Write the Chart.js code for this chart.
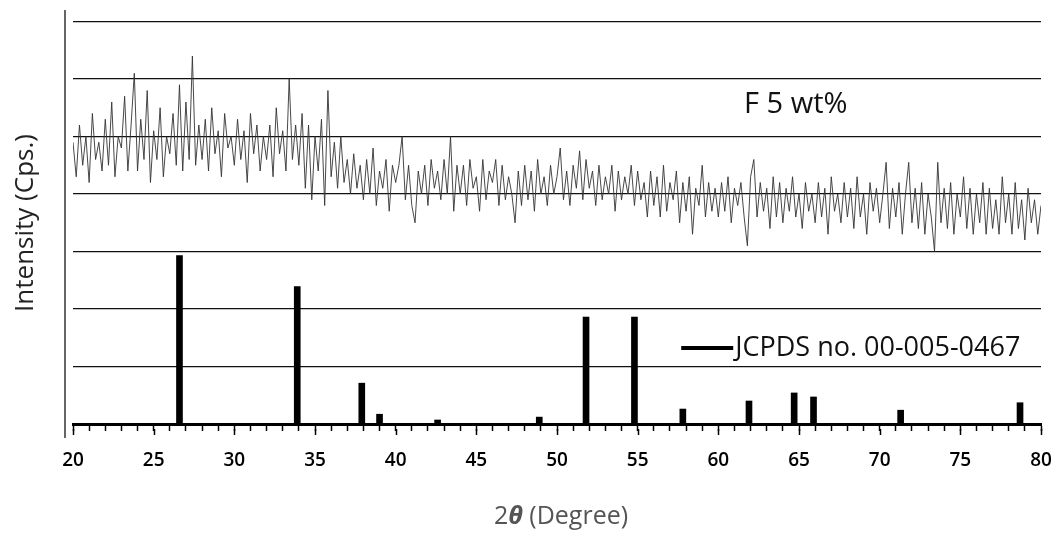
<!DOCTYPE html>
<html>
<head>
<meta charset="utf-8">
<script src="https://cdn.jsdelivr.net/npm/chart.js@4.4.1/dist/chart.umd.min.js"></script>
<style>
  html, body { margin: 0; padding: 0; background: #fff; }
  #wrap { width: 1062px; height: 536px; }
</style>
</head>
<body>
<div id="wrap"><canvas id="xrd"></canvas></div>
<script>
// measured pattern, F 5 wt% sample, 20-80 deg every 0.2 deg (offset so it sits above the reference sticks)
const scanStart = 20;
const scanStep = 0.2;
const sampleIntensity = [
    4.9,4.3,5.2,4.5,5.0,4.2,5.4,4.6,4.9,4.4,
    5.3,4.5,5.6,4.3,5.0,4.8,5.7,4.4,5.2,6.1,
    4.4,5.3,4.6,5.8,4.2,5.1,4.6,5.5,4.3,5.0,
    4.7,5.4,4.5,5.9,4.4,5.6,4.6,6.4,4.5,5.2,
    4.6,5.3,4.4,5.5,4.7,5.1,4.3,5.4,4.8,5.0,
    4.5,5.3,4.6,5.1,4.2,5.4,4.7,5.2,4.4,5.0,
    4.6,5.2,4.3,5.5,4.7,5.1,4.4,6.0,4.6,5.2,
    4.5,5.4,4.1,5.2,3.9,5.0,4.4,5.3,3.8,5.8,
    4.3,4.9,4.1,5.0,4.2,4.6,4.0,4.7,4.1,4.5,
    3.9,4.6,4.0,4.8,3.8,4.4,4.1,4.6,3.7,4.5,
    4.2,4.5,5.0,3.9,4.5,3.8,3.5,4.4,4.0,4.5,
    3.8,4.6,4.1,4.4,3.9,4.6,4.0,5.0,3.7,4.5,
    4.0,4.5,3.8,4.6,4.1,4.3,3.7,4.6,3.9,4.4,
    4.2,4.6,3.8,4.5,3.9,4.3,4.0,3.5,4.4,3.8,
    4.5,3.9,4.4,3.7,4.6,4.0,4.3,3.8,4.5,4.0,
    4.3,4.8,3.9,4.4,3.8,4.5,4.1,4.75,3.9,4.6,
    4.1,4.4,3.8,4.5,3.9,4.3,4.0,4.5,3.7,4.4,
    3.9,4.3,4.0,4.5,3.8,4.4,3.9,4.2,3.6,4.4,
    3.8,4.3,3.6,4.5,3.7,4.2,3.9,4.4,3.5,4.2,
    3.7,4.3,3.3,4.1,3.8,4.5,3.6,4.2,3.7,4.1,
    3.6,4.2,3.7,4.3,3.5,4.1,3.8,4.2,3.6,3.1,
    4.3,4.6,3.6,4.2,3.7,4.1,3.4,4.3,3.6,4.2,
    3.5,4.1,3.7,4.3,3.6,4.0,3.4,4.2,3.7,4.0,
    3.5,4.2,3.6,4.1,3.3,4.3,3.7,4.0,3.5,4.2,
    3.6,4.1,3.4,4.3,3.6,4.0,3.3,4.2,3.7,4.1,
    3.5,4.0,4.55,3.4,4.1,3.6,4.2,3.3,4.0,4.55,
    3.5,4.1,3.4,4.2,3.3,4.0,3.6,3.0,4.55,3.5,
    4.1,3.4,4.2,3.3,4.0,3.6,4.3,3.4,4.1,3.3,
    4.0,3.5,4.2,3.3,4.1,3.4,3.9,3.3,4.3,3.5,
    4.0,3.3,4.2,3.4,3.9,3.2,4.1,3.5,3.9,3.3,
    3.8
];

// JCPDS no. 00-005-0467 reference lines
const refPositions = [26.6, 33.9, 37.9, 39.0, 42.6, 48.9, 51.8, 54.8, 57.8, 61.9, 64.7, 65.9, 71.3, 78.7];
const refHeights   = [2.93, 2.39, 0.71, 0.17, 0.07, 0.12, 1.86, 1.86, 0.26, 0.40, 0.54, 0.47, 0.24, 0.37];

const xMin = 20;
const xMax = 80;
const xLabelEvery = 5;
const yGridLines = [0, 1, 2, 3, 4, 5, 6, 7];

const sampleLabel = 'F 5 wt%';
const refLabel = 'JCPDS no. 00-005-0467';

const FONT = "'Open Sans', 'DejaVu Sans', sans-serif";

const samplePoints = sampleIntensity.map((v, i) => ({ x: +(scanStart + i * scanStep).toFixed(2), y: v }));
const refPoints = refPositions.map((p, i) => ({ x: p, y: refHeights[i] }));

// frame line left of the plot, longer major ticks, axis titles, sample name and the legend entry
const decor = {
    id: 'decor',
    afterDraw(chart) {
        const { ctx, chartArea, scales } = chart;
        ctx.save();

        ctx.strokeStyle = '#333';
        ctx.lineWidth = 1.5;
        ctx.beginPath();
        ctx.moveTo(chartArea.left - 8, chartArea.top);
        ctx.lineTo(chartArea.left - 8, chartArea.bottom + 14);
        ctx.stroke();

        ctx.strokeStyle = '#000';
        ctx.lineWidth = 1.5;
        for (let v = xMin; v <= xMax; v += xLabelEvery) {
            const px = Math.round(scales.x.getPixelForValue(v)) + 0.5;
            ctx.beginPath();
            ctx.moveTo(px, chartArea.bottom + 5);
            ctx.lineTo(px, chartArea.bottom + 11);
            ctx.stroke();
        }

        // y title
        ctx.save();
        ctx.translate(26, (chartArea.top + chartArea.bottom) / 2 + 6);
        ctx.rotate(-Math.PI / 2);
        ctx.fillStyle = '#222';
        ctx.font = '26px ' + FONT;
        ctx.textAlign = 'center';
        ctx.textBaseline = 'middle';
        ctx.fillText('Intensity (Cps.)', 0, 0);
        ctx.restore();

        // x title: 2θ (Degree), theta in bold italic
        const parts = [
            ['2', '25px ' + FONT],
            ['θ', 'italic bold 25px ' + FONT],
            [' (Degree)', '25px ' + FONT],
        ];
        let total = 0;
        parts.forEach(([t, f]) => { ctx.font = f; total += ctx.measureText(t).width; });
        let tx = (chartArea.left + chartArea.right) / 2 + 4 - total / 2;
        ctx.fillStyle = '#555';
        ctx.textAlign = 'left';
        ctx.textBaseline = 'middle';
        parts.forEach(([t, f]) => { ctx.font = f; ctx.fillText(t, tx, 517); tx += ctx.measureText(t).width; });

        ctx.fillStyle = '#111';
        ctx.font = '29px ' + FONT;
        ctx.textAlign = 'center';
        ctx.fillText(sampleLabel, scales.x.getPixelForValue(64.8), scales.y.getPixelForValue(5.55));

        const lx = scales.x.getPixelForValue(57.7);
        const ly = scales.y.getPixelForValue(1.32);
        ctx.strokeStyle = '#000';
        ctx.lineWidth = 4;
        ctx.beginPath();
        ctx.moveTo(lx, ly);
        ctx.lineTo(lx + 52, ly);
        ctx.stroke();
        ctx.fillStyle = '#111';
        ctx.font = '27px ' + FONT;
        ctx.textAlign = 'left';
        ctx.fillText(refLabel, lx + 54, ly);

        ctx.restore();
    }
};

new Chart(document.getElementById('xrd'), {
    data: {
        datasets: [
            {
                type: 'line',
                label: sampleLabel,
                data: samplePoints,
                borderColor: '#333',
                borderWidth: 0.9,
                pointRadius: 0,
                tension: 0,
                fill: false,
            },
            {
                type: 'bar',
                label: refLabel,
                data: refPoints,
                backgroundColor: '#000',
                barThickness: 6,
            }
        ]
    },
    options: {
        responsive: true,
        maintainAspectRatio: false,
        animation: false,
        devicePixelRatio: 1,
        layout: { padding: { left: 0, right: 21, top: 10, bottom: 0 } },
        plugins: { legend: { display: false }, tooltip: { enabled: false } },
        scales: {
            x: {
                type: 'linear',
                min: xMin,
                max: xMax,
                offset: false,
                position: 'bottom',
                afterFit: (s) => { s.height = 112; s.paddingLeft = 0; s.paddingRight = 0; },
                border: { display: true, color: '#000', width: 3 },
                grid: { offset: false, drawOnChartArea: false, drawTicks: true, tickLength: 7, tickColor: '#000', tickWidth: 1.5 },
                ticks: {
                    stepSize: 1,
                    autoSkip: false,
                    maxRotation: 0,
                    padding: 18,
                    color: '#000',
                    font: { family: FONT, size: 19, weight: '600' },
                    callback: (v) => (v % xLabelEvery === 0 ? String(v) : ''),
                },
                title: { display: false },
            },
            y: {
                min: 0,
                max: 7.2,
                afterFit: (s) => { s.width = 73; },
                afterBuildTicks: (s) => { s.ticks = yGridLines.map((v) => ({ value: v })); },
                border: { display: false },
                ticks: { display: false },
                grid: { drawTicks: false, lineWidth: 1.3, color: '#111' },
                title: { display: false },
            }
        }
    },
    plugins: [decor]
});
</script>
</body>
</html>
